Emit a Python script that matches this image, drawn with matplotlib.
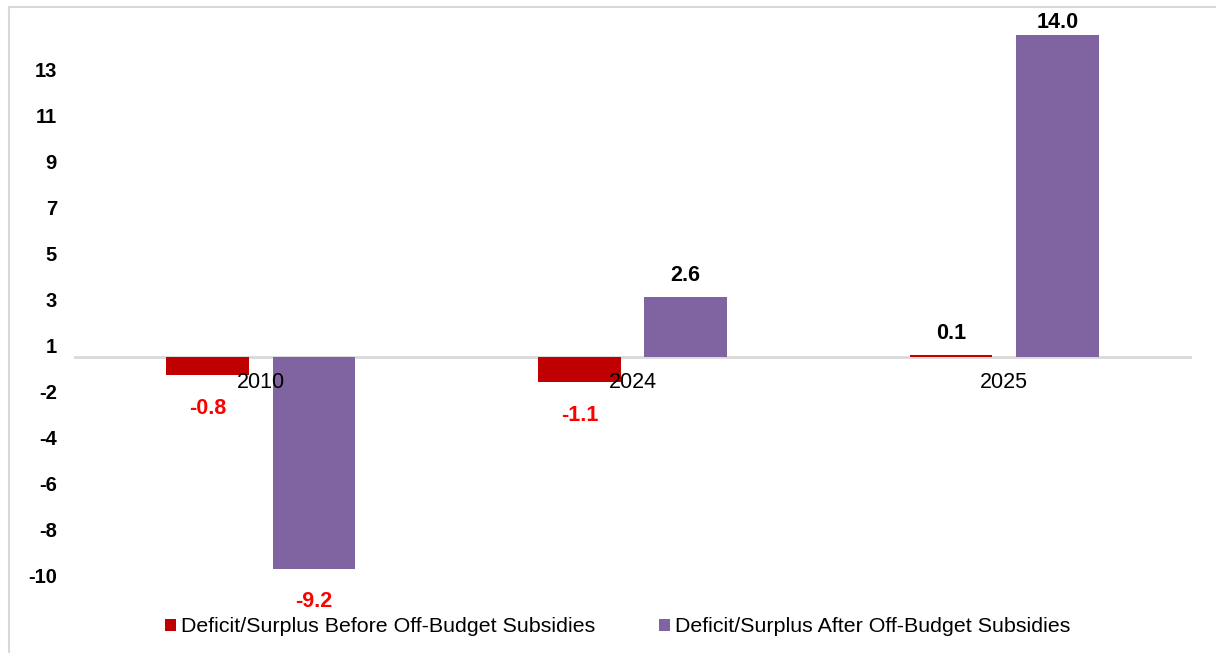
import matplotlib.pyplot as plt
from matplotlib.lines import Line2D
import numpy as np

years = ['2010', '2024', '2025']
before = [-0.8, -1.1, 0.1]
after = [-9.2, 2.6, 14.0]
ytick_pos = [-9.5, -7.5, -5.5, -3.5, -1.5, 0.5, 2.5, 4.5, 6.5, 8.5, 10.5, 12.5]
ytick_labels = ['-10', '-8', '-6', '-4', '-2', '1', '3', '5', '7', '9', '11', '13']

red = '#C00000'
purple = '#8064A2'
grey = '#D9D9D9'

plt.rcParams['font.family'] = ['Liberation Sans', 'DejaVu Sans']

W, H = 1216, 653
fig = plt.figure(figsize=(W / 100, H / 100), dpi=100)
ax = fig.add_axes([75 / W, 1 - 598.5 / H, (1190 - 75) / W, (598.5 - 12) / H])

x = np.arange(len(years))
w = 0.223
off = 0.143
b1 = ax.bar(x - off, before, w, color=red, zorder=3, label='Deficit/Surplus Before Off-Budget Subsidies')
b2 = ax.bar(x + off, after, w, color=purple, zorder=3, label='Deficit/Surplus After Off-Budget Subsidies')

ymin, ymax = -10.5, 15.0
ax.set_xlim(-0.5, 2.5)
ax.set_ylim(ymin, ymax)

for bars, vals in [(b1, before), (b2, after)]:
    for rect, v in zip(bars, vals):
        cx = rect.get_x() + rect.get_width() / 2
        if v >= 0:
            if v > ymax - 1.2:
                # not enough room above the bar: keep the label inside the plot area
                ax.text(cx, ymax, f'{v:.1f}', ha='center', va='top', fontsize=15.5,
                        fontweight='bold', color='black')
            else:
                ax.annotate(f'{v:.1f}', (cx, v), xytext=(0, 8), textcoords='offset points',
                            ha='center', va='bottom', fontsize=15.5, fontweight='bold', color='black')
        else:
            ax.annotate(f'{v:.1f}', (cx, v), xytext=(0, -16), textcoords='offset points',
                        ha='center', va='top', fontsize=15.5, fontweight='bold', color='#FF0000')

# category axis sits on the zero line, labels drawn over the bars
for s in ['top', 'right', 'left']:
    ax.spines[s].set_visible(False)
ax.spines['bottom'].set_position(('data', 0))
ax.spines['bottom'].set_color(grey)
ax.spines['bottom'].set_linewidth(2)
ax.spines['bottom'].set_zorder(2)
ax.xaxis.set_zorder(4)
ax.set_xticks(x)
ax.set_xticklabels(years, fontsize=15.5)
ax.tick_params(axis='x', length=0, pad=11)

ax.set_yticks(ytick_pos)
ax.set_yticklabels(ytick_labels, fontsize=14.5, fontweight='bold')
ax.tick_params(axis='y', length=0, pad=13)

fig.legend(handles=[b1, b2], loc='center', bbox_to_anchor=(617.5 / W, 1 - 627 / H),
           ncol=2, frameon=False, fontsize=15.4, handlelength=0.51, handleheight=0.51,
           handletextpad=0.23, columnspacing=3.0)

# chart area border
fig.add_artist(Line2D([9 / W, 1], [1 - 7 / H, 1 - 7 / H], color=grey, lw=1.5))
fig.add_artist(Line2D([9 / W, 9 / W], [0, 1 - 7 / H], color=grey, lw=1.5))

fig.savefig('out.png', dpi=100)
